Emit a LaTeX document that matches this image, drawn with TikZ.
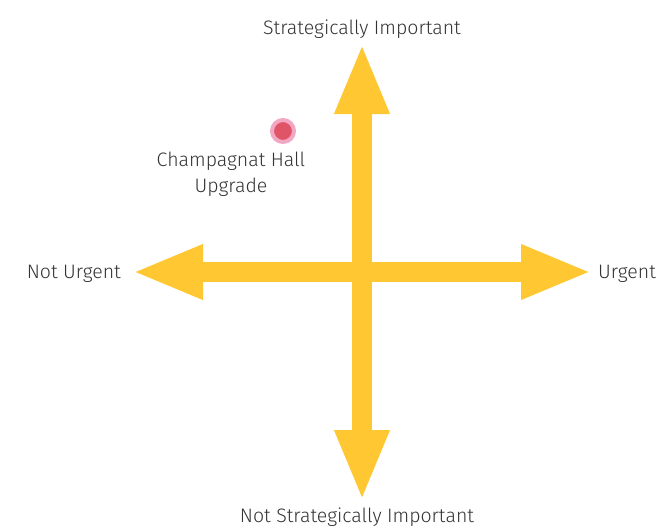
\documentclass[tikz,border=0pt]{standalone}
\usepackage{fontspec}
\setmainfont{Fira Sans Light}
\usetikzlibrary{arrows.meta}

\definecolor{axisyellow}{HTML}{FFC833}
\definecolor{labelgrey}{HTML}{333333}
\definecolor{dotred}{HTML}{E05468}
\definecolor{dotring}{HTML}{F2A7C3}

\begin{document}
\begin{tikzpicture}[x=1pt,y=-1pt,
  axis/.style={draw=axisyellow, line width=20pt,
    {Triangle[length=71pt,width=50pt]}-{Triangle[length=71pt,width=50pt]}},
  lbl/.style={font=\fontsize{19.5}{26}\selectfont, text=labelgrey, inner sep=0pt}]
\useasboundingbox (0,0) rectangle (664,530);
% ends of the two axes
\coordinate (west) at (132,272);
\coordinate (east) at (592,272);
\coordinate (north) at (362,43);
\coordinate (south) at (362,501);
\draw[axis] (west) -- (east);
\draw[axis] (south) -- (north);
% axis captions
\node[lbl] (imp) at (362,29) {Strategically Important};
\node[lbl] (notimp) at (357,517) {Not Strategically Important};
\node[lbl, anchor=east] (noturg) at (121,274) {Not Urgent};
\node[lbl, anchor=west] (urg) at (598,274) {Urgent};
% project marker
\node[circle, fill=dotred, draw=dotring, line width=4pt, minimum size=22pt, inner sep=0pt] (hall) at (283,131) {};
\node[lbl, align=center] (halltxt) at (231,174) {Champagnat Hall\\Upgrade};
\end{tikzpicture}
\end{document}
